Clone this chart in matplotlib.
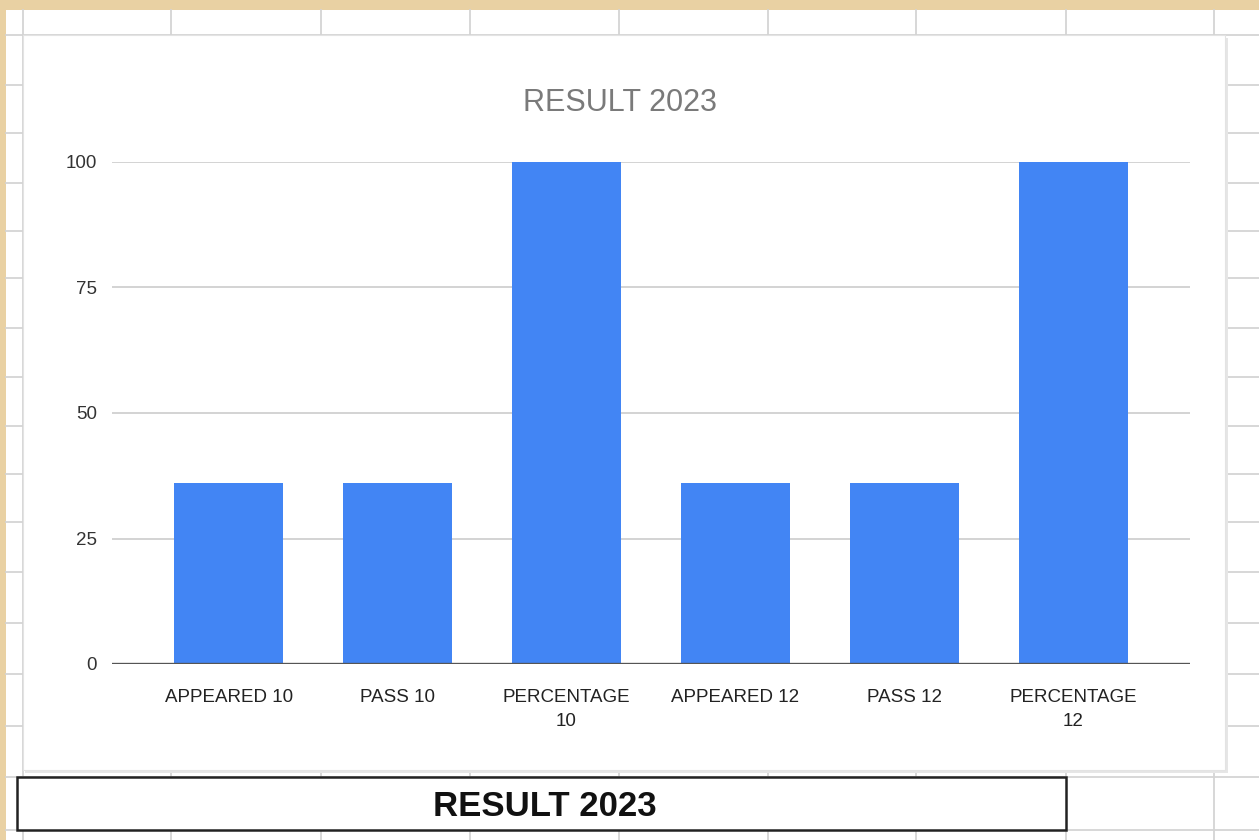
import matplotlib
matplotlib.use('Agg')
import matplotlib.pyplot as plt
from matplotlib.patches import Rectangle
from matplotlib.lines import Line2D

categories = ['APPEARED 10', 'PASS 10', 'PERCENTAGE\n10', 'APPEARED 12', 'PASS 12', 'PERCENTAGE\n12']
values = [36, 36, 100, 36, 36, 100]
yticks = [0, 25, 50, 75, 100]
title = 'RESULT 2023'

plt.rcParams['font.family'] = ['Liberation Sans', 'DejaVu Sans']

W, H = 1259, 840
fig = plt.figure(figsize=(W / 100, H / 100), dpi=100)
fig.patch.set_facecolor('#e9d1a3')


def px_rect(x0, y0, x1, y1, **kw):
    # pixel box (top-left origin) -> figure fraction rectangle
    r = Rectangle((x0 / W, 1 - y1 / H), (x1 - x0) / W, (y1 - y0) / H,
                  transform=fig.transFigure, **kw)
    fig.add_artist(r)


def px_line(x0, y0, x1, y1, **kw):
    fig.add_artist(Line2D([x0 / W, x1 / W], [1 - y0 / H, 1 - y1 / H],
                          transform=fig.transFigure, **kw))


# spreadsheet sheet behind the chart
px_rect(6, 10, W + 5, H + 5, facecolor='white', edgecolor='none', zorder=0)
cols = [23, 171, 321, 470, 619, 768, 916, 1066, 1214]
rows = [35, 85, 133, 183, 231, 278, 328, 377, 426, 474, 522, 572, 623, 674, 726, 777, 830]
for c in cols:
    px_line(c, 10, c, H, color='#d4d4d4', lw=1.3, zorder=1)
for r in rows:
    px_line(6, r, W, r, color='#d4d4d4', lw=1.3, zorder=1)

# chart card
px_rect(25, 38, 1228, 773, facecolor='#e6e6e6', edgecolor='none', zorder=2)
px_rect(23, 35, 1225, 770, facecolor='white', edgecolor='#e3e3e3', lw=0.8, zorder=3)

# bottom label box
px_rect(17, 777, 1066, 830, facecolor='white', edgecolor='#222222', lw=1.8, zorder=3)
fig.text(545 / W, 1 - 806 / H, title, ha='center', va='center',
         fontsize=25, fontweight='bold', color='#111111', zorder=4)

# chart title
fig.text(620 / W, 1 - 103 / H, title, ha='center', va='center',
         fontsize=22, color='#7a7a7a', zorder=4)

ax = fig.add_axes([112 / W, 1 - 664 / H, (1190 - 112) / W, (664 - 162) / H], zorder=5)
ax.patch.set_alpha(0)
x = range(len(categories))
ax.bar(x, values, width=0.645, color='#4285f4', zorder=3)
ax.set_xlim(-0.69, 5.69)
ax.set_ylim(0, 100)
ax.set_yticks(yticks)
ax.set_xticks(list(x))
ax.set_xticklabels(categories, fontsize=13.5, color='#222222', linespacing=1.55)
ax.tick_params(axis='y', labelsize=13.5, labelcolor='#333333', length=0, pad=11)
ax.tick_params(axis='x', length=0, pad=18)
ax.grid(axis='y', color='#cccccc', lw=1.2, zorder=0)
for s in ax.spines.values():
    s.set_visible(False)
ax.axhline(0, color='#555555', lw=2.4, zorder=4)

fig.savefig('out.png', dpi=100, facecolor=fig.get_facecolor())
